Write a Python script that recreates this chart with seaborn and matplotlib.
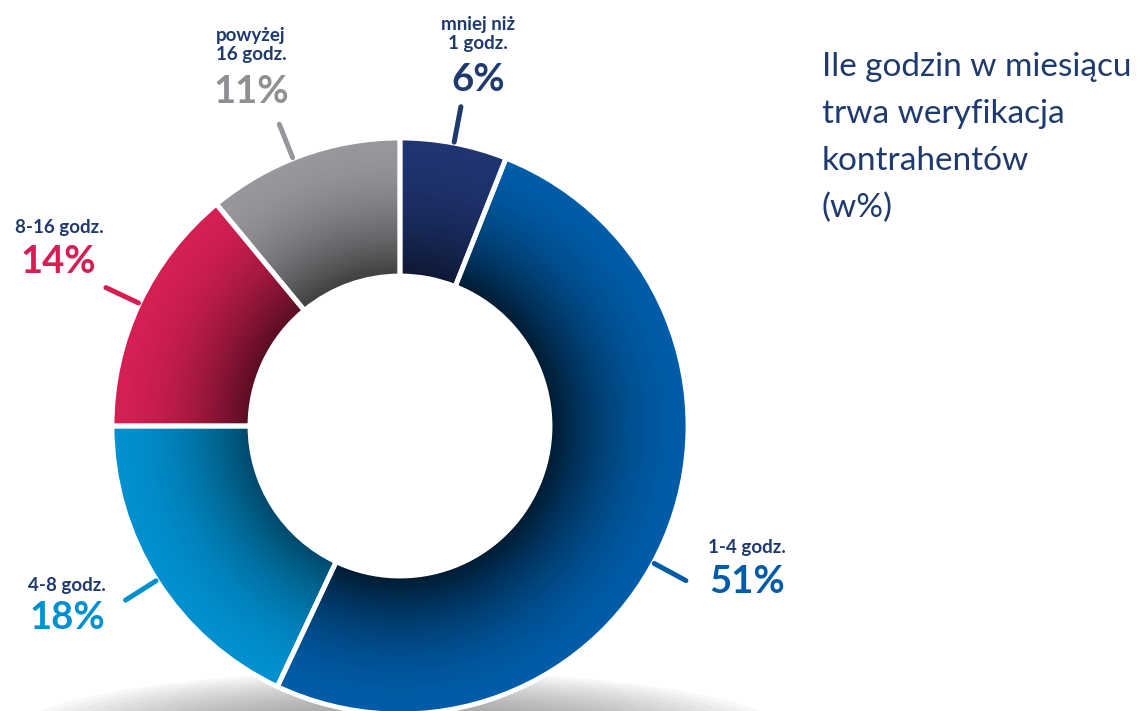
import numpy as np
import matplotlib
matplotlib.use("Agg")
import matplotlib.pyplot as plt
from matplotlib.patches import Ellipse
import seaborn as sns

# ---- data ----
categories = ["mniej niż\n1 godz.", "1-4 godz.", "4-8 godz.", "8-16 godz.", "powyżej\n16 godz."]
values = [6, 51, 18, 14, 11]
pct_labels = ["6%", "51%", "18%", "14%", "11%"]
title_text = "Ile godzin w miesiącu\ntrwa weryfikacja\nkontrahentów\n(w%)"

# ---- style ----
colors = ["#1f3471", "#005ca8", "#0090d0", "#d51f52", "#97989c"]
pct_colors = ["#1f3a6f", "#005ca8", "#0090d0", "#d51f52", "#8f9094"]
navy = "#1f3a6f"
shade_max = [0.55, 0.72, 0.5, 0.6, 0.6]
leader_offset = [0, -5, 0, 0, 2]          # degrees
cat_xy = [(478, 34), (747, 548), (67, 585), (59, 228), (251, 45)]   # pixel positions (y from top)
pct_xy = [(478, 80), (747, 582), (67, 618), (58, 262), (251, 92)]

sns.set_theme(style="white")
plt.rcParams["font.family"] = ["Lato", "DejaVu Sans"]

W, H = 1138, 711
fig = plt.figure(figsize=(W / 100, H / 100), dpi=100)
ax = fig.add_axes([0, 0, 1, 1])

cx, cy = 400, H - 426
R_out, R_in = 288, 150

# shadow under the donut
for i in range(16):
    w = 780 - i * 30
    e = Ellipse((cx, -25), w, 130 - i * 5, facecolor="#6e6e72", alpha=0.05, edgecolor="none", zorder=0)
    ax.add_patch(e)

# radial gradient rings
N = 60
edges = np.linspace(R_out, R_in, N + 1)
base = np.array([matplotlib.colors.to_rgb(c) for c in colors])
for i in range(N):
    r_o = edges[i]
    r_i = edges[i + 1]
    t = ((r_o + r_i) / 2 - R_in) / (R_out - R_in)
    dark = np.array(shade_max) * (1 - t) ** 1.8
    cols = [tuple(base[k] * (1 - dark[k])) for k in range(len(values))]
    ax.pie(values, colors=cols, radius=r_o, center=(cx, cy), startangle=90, counterclock=False,
           wedgeprops=dict(width=(r_o - r_i) + 0.8, linewidth=0, antialiased=True), frame=True)

# separators
ax.pie(values, radius=R_out, center=(cx, cy), startangle=90, counterclock=False,
       wedgeprops=dict(width=R_out - R_in, facecolor="none", edgecolor="white", linewidth=3.5), frame=True)

# leader lines and labels
cum = np.cumsum([0] + values[:-1])
for k, v in enumerate(values):
    mid = 90 - (cum[k] + v / 2) / sum(values) * 360 + leader_offset[k]
    a = np.deg2rad(mid)
    r1, r2 = R_out + 1, R_out + 37
    ax.plot([cx + r1 * np.cos(a), cx + r2 * np.cos(a)], [cy + r1 * np.sin(a), cy + r2 * np.sin(a)],
            color=colors[k] if k else "#1f3a6f", lw=3.6, solid_capstyle="round", zorder=5)
    x, y = cat_xy[k]
    ax.text(x, H - y, categories[k], ha="center", va="center", fontsize=13.5, fontweight="bold",
            color=navy, linespacing=1.1, zorder=6)
    x, y = pct_xy[k]
    ax.text(x, H - y, pct_labels[k], ha="center", va="center", fontsize=27.5, fontweight="bold",
            color=pct_colors[k], zorder=6)

ax.text(822, H - 52, title_text, ha="left", va="top", fontsize=24, color=navy, linespacing=1.7)

ax.set_xlim(0, W)
ax.set_ylim(0, H)
ax.set_aspect("equal")
ax.axis("off")
fig.savefig("out.png", dpi=100)
